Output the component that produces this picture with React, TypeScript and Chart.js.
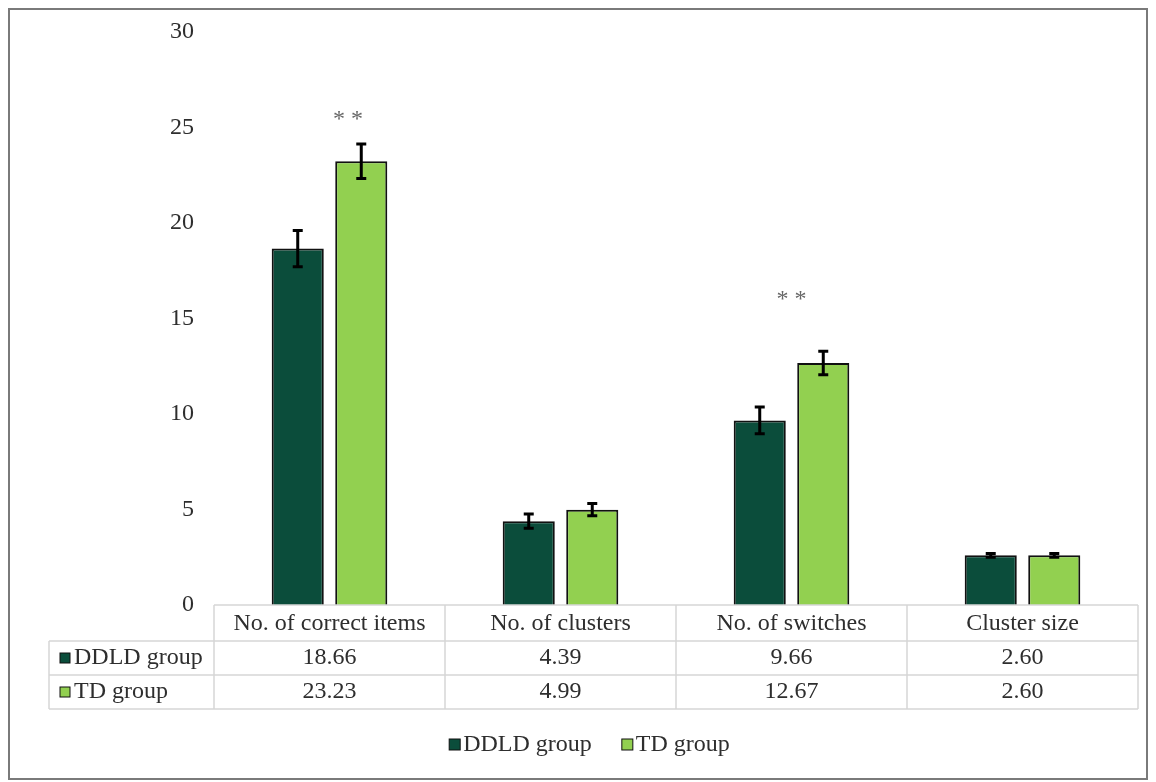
import React, { useEffect, useRef } from "react";
import { Chart, registerables } from "chart.js";

Chart.register(...registerables);

const categories = ["No. of correct items", "No. of clusters", "No. of switches", "Cluster size"];
const seriesNames = ["DDLD group", "TD group"];
const ddldValues = [18.66, 4.39, 9.66, 2.6];
const tdValues = [23.23, 4.99, 12.67, 2.6];
const ddldErrors = [0.95, 0.37, 0.7, 0.1];
const tdErrors = [0.9, 0.32, 0.62, 0.1];
const yTicks = [0, 5, 10, 15, 20, 25, 30];
const starLabels = ["**", "", "**", ""];
const starY = [25.55, 0, 16.13, 0];
const starXOffset = [0.08, 0, 0, 0];

const DARK = "#0b4d3b";
const LIGHT = "#92d050";
const FONT = '"Liberation Serif", "Times New Roman", serif';
const TEXT = "#2e2e2e";
const GRIDC = "#d6d6d6";

const W = 1140;
const H = 772;
const TABLE_LEFT = 41;
const HEADER_H = 36;
const ROW_H = 34;

export default function App() {
  const ref = useRef<HTMLCanvasElement | null>(null);

  useEffect(() => {
    const canvas = ref.current;
    if (!canvas) return;

    const extras = {
      id: "extras",
      afterDatasetsDraw(chart: any) {
        const ctx = chart.ctx;
        const xs = chart.scales.x;
        const ys = chart.scales.y;
        const errs = [ddldErrors, tdErrors];
        const vals = [ddldValues, tdValues];
        ctx.save();
        ctx.strokeStyle = "#000";
        ctx.lineWidth = 3;
        for (let d = 0; d < 2; d++) {
          const meta = chart.getDatasetMeta(d);
          meta.data.forEach((bar: any, i: number) => {
            const x = bar.x;
            const top = ys.getPixelForValue(vals[d][i] + errs[d][i]);
            const bot = ys.getPixelForValue(vals[d][i] - errs[d][i]);
            ctx.beginPath();
            ctx.moveTo(x, top);
            ctx.lineTo(x, bot);
            ctx.moveTo(x - 5, top);
            ctx.lineTo(x + 5, top);
            ctx.moveTo(x - 5, bot);
            ctx.lineTo(x + 5, bot);
            ctx.stroke();
          });
        }
        ctx.fillStyle = "#666";
        ctx.font = "24px " + FONT;
        ctx.textAlign = "center";
        ctx.textBaseline = "middle";
        starLabels.forEach((s, i) => {
          if (!s) return;
          const x = xs.getPixelForValue(i + starXOffset[i]);
          const y = ys.getPixelForValue(starY[i]);
          ctx.fillText(s.split("").join(" "), x, y + 3);
        });
        ctx.restore();
      },
      afterDraw(chart: any) {
        const ctx = chart.ctx;
        const xs = chart.scales.x;
        const area = chart.chartArea;
        const top = area.bottom;
        const r1 = top + HEADER_H;
        const r2 = r1 + ROW_H;
        const r3 = r2 + ROW_H;
        ctx.save();
        ctx.strokeStyle = GRIDC;
        ctx.lineWidth = 1.5;
        ctx.beginPath();
        ctx.moveTo(area.left, top);
        ctx.lineTo(area.right, top);
        [r1, r2, r3].forEach((y) => {
          ctx.moveTo(TABLE_LEFT, y);
          ctx.lineTo(area.right, y);
        });
        ctx.moveTo(TABLE_LEFT, r1);
        ctx.lineTo(TABLE_LEFT, r3);
        const n = categories.length;
        for (let i = 0; i <= n; i++) {
          let x;
          if (i === 0) x = area.left;
          else if (i === n) x = area.right;
          else x = (xs.getPixelForValue(i - 1) + xs.getPixelForValue(i)) / 2;
          ctx.moveTo(x, top);
          ctx.lineTo(x, r3);
        }
        ctx.stroke();

        ctx.font = "24px " + FONT;
        ctx.fillStyle = TEXT;
        ctx.textBaseline = "middle";
        ctx.textAlign = "center";
        const rows = [ddldValues, tdValues];
        const rowY = [(r1 + r2) / 2, (r2 + r3) / 2];
        rows.forEach((vals, r) => {
          vals.forEach((v, i) => {
            ctx.fillText(v.toFixed(2), xs.getPixelForValue(i), rowY[r]);
          });
        });
        const colors = [DARK, LIGHT];
        ctx.textAlign = "left";
        seriesNames.forEach((name, r) => {
          ctx.fillStyle = colors[r];
          ctx.strokeStyle = "#111";
          ctx.lineWidth = 1;
          ctx.fillRect(TABLE_LEFT + 11, rowY[r] - 5, 10, 10);
          ctx.strokeRect(TABLE_LEFT + 11, rowY[r] - 5, 10, 10);
          ctx.fillStyle = TEXT;
          ctx.fillText(name, TABLE_LEFT + 25, rowY[r]);
        });

        const legendY = r3 + 36;
        const widths = seriesNames.map((s) => ctx.measureText(s).width);
        const gap = 30;
        const total = widths.reduce((a, b) => a + b + 14, 0) + gap;
        let lx = (TABLE_LEFT + area.right) / 2 - total / 2 - 4;
        seriesNames.forEach((name, r) => {
          ctx.fillStyle = colors[r];
          ctx.strokeStyle = "#111";
          ctx.lineWidth = 1;
          ctx.fillRect(lx, legendY - 6, 11, 11);
          ctx.strokeRect(lx, legendY - 6, 11, 11);
          ctx.fillStyle = TEXT;
          ctx.fillText(name, lx + 14, legendY);
          lx += 14 + widths[r] + gap;
        });

        ctx.strokeStyle = "#7a7a7a";
        ctx.lineWidth = 2;
        ctx.strokeRect(1, 1, chart.width - 2, chart.height - 2);
        ctx.restore();
      },
    };

    const chart = new Chart(canvas, {
      type: "bar",
      data: {
        labels: categories,
        datasets: [
          {
            label: seriesNames[0],
            data: ddldValues,
            backgroundColor: DARK,
            borderColor: "#111",
            borderWidth: 2,
            categoryPercentage: 0.55,
            barPercentage: 0.82,
          },
          {
            label: seriesNames[1],
            data: tdValues,
            backgroundColor: LIGHT,
            borderColor: "#111",
            borderWidth: 2,
            categoryPercentage: 0.55,
            barPercentage: 0.82,
          },
        ],
      },
      options: {
        responsive: false,
        animation: false,
        devicePixelRatio: 1,
        layout: { padding: { left: 0, right: 10, top: 24, bottom: 0 } },
        plugins: {
          legend: { display: false },
          tooltip: { enabled: false },
          title: { display: false },
        },
        scales: {
          x: {
            grid: { display: false, drawTicks: false },
            border: { display: false },
            ticks: {
              font: { family: FONT, size: 24 },
              color: TEXT,
              padding: 4,
              maxRotation: 0,
              autoSkip: false,
            },
            afterFit(scale: any) {
              scale.height = 175;
              scale.paddingLeft = 0;
              scale.paddingRight = 0;
            },
          },
          y: {
            min: 0,
            max: 30,
            afterBuildTicks(scale: any) {
              scale.ticks = yTicks.map((v) => ({ value: v }));
            },
            grid: { display: false, drawTicks: false },
            border: { display: false },
            ticks: {
              font: { family: FONT, size: 24 },
              color: TEXT,
              padding: 20,
            },
            afterFit(scale: any) {
              scale.width = 206;
              scale.paddingTop = 0;
              scale.paddingBottom = 0;
            },
          },
        },
      },
      plugins: [extras],
    });
    return () => chart.destroy();
  }, []);

  return (
    <div style={{ position: "fixed", left: 8, top: 8, width: W, height: H, background: "#fff" }}>
      <canvas ref={ref} width={W} height={H} style={{ display: "block" }} />
    </div>
  );
}
